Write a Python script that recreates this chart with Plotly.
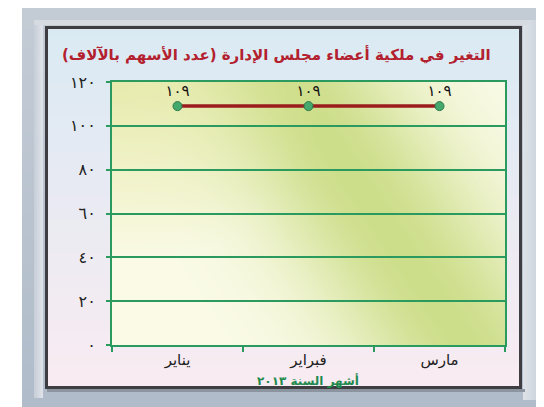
import base64, struct, zlib
import numpy as np
import plotly.graph_objects as go

# ---------------- data ----------------
months = ["يناير", "فبراير", "مارس"]
shares = [109, 109, 109]
share_labels = ["١٠٩", "١٠٩", "١٠٩"]
y_tickvals = [0, 20, 40, 60, 80, 100, 120]
y_ticktext = ["٠", "٢٠", "٤٠", "٦٠", "٨٠", "١٠٠", "١٢٠"]
title_text = "\u200fالتغير في ملكية أعضاء مجلس الإدارة (عدد الأسهم بالآلاف)\u200f"
x_title_text = "\u200fأشهر السنة ٢٠١٣\u200f"

# ---------------- geometry ----------------
W, H = 544, 407
L, R, T, B = 104, 497, 74, 337          # plot area in pixels
FX0, FX1, FY0, FY1 = 37, 513, 18, 380   # frame


def png_data_uri(arr):
    h, w, _ = arr.shape
    raw = b"".join(b"\x00" + arr[i].astype(np.uint8).tobytes() for i in range(h))
    def chunk(tag, data):
        c = struct.pack(">I", len(data)) + tag + data
        return c + struct.pack(">I", zlib.crc32(tag + data) & 0xFFFFFFFF)
    png = b"\x89PNG\r\n\x1a\n" + chunk(b"IHDR", struct.pack(">IIBBBBB", w, h, 8, 2, 0, 0, 0))
    png += chunk(b"IDAT", zlib.compress(raw, 9)) + chunk(b"IEND", b"")
    return "data:image/png;base64," + base64.b64encode(png).decode()


Y, X = np.mgrid[0:H, 0:W].astype(float)
img = np.ones((H, W, 3)) * 255.0

def mix(a, b, t):
    a = np.array(a, float); b = np.array(b, float)
    t = np.clip(t, 0, 1)[..., None]
    return a * (1 - t) + b * t

# outer gray panel
gray = mix((196, 204, 214), (176, 188, 202), Y / H)
m = (X >= 14) & (X < 537) & (Y < 402)
img[m] = gray[m]
# light bevel bands
m = (X >= 26) & (X < 35) & (Y >= 12) & (Y < 390)
img[m] = mix((200, 207, 216), (226, 230, 236), (X - 26) / 9)[m]
m = (X >= 515) & (X < 537) & (Y >= 12) & (Y < 392)
img[m] = mix((222, 227, 233), (196, 204, 214), (X - 515) / 22)[m]
m = (Y >= 12) & (Y < 17) & (X >= 26) & (X < 520)
img[m] = np.array([214, 219, 226])
# frame inner gradient (blue top -> pink bottom)
fin = (X >= FX0) & (X <= FX1) & (Y >= FY0) & (Y <= FY1)
vv = (Y - FY0) / (FY1 - FY0)
inner = mix((218, 234, 244), (250, 236, 242), vv)
img[fin] = inner[fin]
# frame border
bd = fin & ~((X >= FX0 + 3) & (X <= FX1 - 3) & (Y >= FY0 + 3) & (Y <= FY1 - 3))
img[bd] = np.array([62, 62, 66])
sh = (Y > FY1) & (Y <= FY1 + 3) & (X >= FX0 + 2) & (X <= FX1 + 3)
img[sh] = np.array([140, 148, 160])
# plot area gradient
pa = (X >= L) & (X <= R) & (Y >= T) & (Y <= B)
u = (X - L) / (R - L)
v = (Y - T) / (B - T)
center = 0.45 + 0.45 * v
g = np.exp(-((u - center) / 0.3) ** 2) * 0.9
tint = np.clip(1 - np.sqrt((u / 0.55) ** 2 + (v / 0.7) ** 2), 0, 1) * 0.8
col = mix((251, 251, 232), (200, 219, 128), g)
col = col * (1 - tint[..., None]) + np.array([228, 232, 160.0]) * tint[..., None]
img[pa] = col[pa]

bg_uri = png_data_uri(np.clip(img, 0, 255))

pw, ph = R - L, B - T
GREEN = "#2a9a5e"

fig = go.Figure()
fig.add_trace(go.Scatter(
    x=months, y=shares, mode="lines+markers+text",
    text=share_labels, textposition="top center",
    textfont=dict(family="DejaVu Sans", size=15, color="#111111"),
    line=dict(color="#9b1c1c", width=3.5),
    marker=dict(size=9, color="#45a86c", line=dict(color="#2b7a4b", width=1)),
    hoverinfo="skip", showlegend=False, cliponaxis=False,
))

fig.update_layout(
    width=W, height=H,
    margin=dict(l=L, r=W - R, t=T, b=H - B, pad=0),
    paper_bgcolor="white", plot_bgcolor="rgba(0,0,0,0)",
    images=[dict(source=bg_uri, xref="paper", yref="paper",
                 x=-L / pw, y=1 + T / ph, sizex=W / pw, sizey=H / ph,
                 xanchor="left", yanchor="top", sizing="stretch", layer="below")],
    xaxis=dict(type="category", range=[-0.5, 2.5], showgrid=False, zeroline=False,
               showline=True, mirror=True, linecolor=GREEN, linewidth=2,
               ticks="outside", tickson="boundaries", ticklen=5, tickwidth=2, tickcolor=GREEN,
               tickfont=dict(family="DejaVu Sans", size=15, color="#222222")),
    yaxis=dict(range=[0, 120], tickvals=y_tickvals, ticktext=y_ticktext,
               showgrid=True, gridcolor=GREEN, gridwidth=2, zeroline=False,
               showline=True, mirror=True, linecolor=GREEN, linewidth=2,
               ticks="outside", ticklen=4, tickwidth=2, tickcolor=GREEN,
               ticklabelstandoff=7,
               tickfont=dict(family="DejaVu Sans", size=16, color="#222222")),
    annotations=[
        dict(text="<b>" + title_text + "</b>", xref="paper", yref="paper",
             x=(268 - L) / pw, y=1 + (T - 47) / ph, xanchor="center", yanchor="middle",
             showarrow=False, font=dict(family="DejaVu Sans", size=15, color="#b3202e")),
        dict(text="<b>" + x_title_text + "</b>", xref="paper", yref="paper",
             x=(300 - L) / pw, y=-(372 - B) / ph, xanchor="center", yanchor="middle",
             showarrow=False, font=dict(family="DejaVu Sans", size=12, color="#1e8a4e")),
    ],
)

fig.write_html("out.html")
